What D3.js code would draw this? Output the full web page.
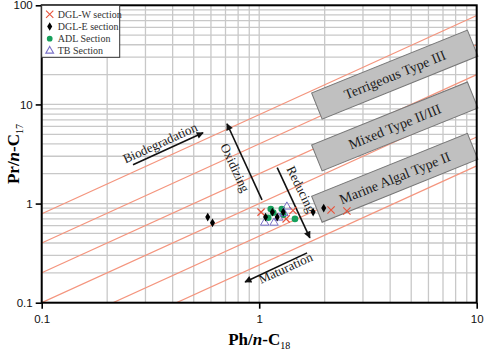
<!DOCTYPE html>
<html>
<head>
<meta charset="utf-8">
<script src="https://cdn.jsdelivr.net/npm/d3@7"></script>
<style>
  body { margin: 0; background: #fff; }
  svg text { font-family: "Liberation Serif", "Times New Roman", serif; }
  .tick text { font-family: "Liberation Sans", Arial, sans-serif; }
</style>
</head>
<body>
<div id="chart"></div>
<script>
// Pr/n-C17 vs Ph/n-C18 values
const dglW = [[1.02, 0.82], [1.33, 0.70], [1.43, 0.85], [2.14, 0.86], [2.53, 0.84]];
const dglE = [[0.58, 0.73], [0.61, 0.64], [1.15, 0.82], [1.07, 0.73], [1.21, 0.73], [1.29, 0.82], [1.77, 0.82], [1.98, 0.90]];
const adl = [[1.13, 0.88], [1.16, 0.81], [1.10, 0.72], [1.27, 0.88], [1.29, 0.77], [1.46, 0.70]];
const tb = [[1.06, 0.64], [1.17, 0.64], [1.34, 0.93], [1.23, 0.72], [1.30, 0.80]];

// iso-ratio lines  Pr/n-C17 = k * Ph/n-C18
const ratios = [0.24, 0.47, 1, 2, 4, 7.9];

const xTicks = [0.1, 1, 10];
const yTicks = [0.1, 1, 10, 100];

const legendNames = ["DGL-W section", "DGL-E section", "ADL Section", "TB Section"];

// kerogen type boxes (centre in data units)
const boxes = [
  { label: "Terrigeous Type III", x: 4.2, y: 20 },
  { label: "Mixed Type II/III", x: 4.2, y: 6.0 },
  { label: "Marine Algal Type II", x: 4.2, y: 1.82 }
];

// arrows: from -> to, text centre, text rotation
const arrows = [
  { label: "Biodegradation", from: [0.263, 2.46], to: [0.552, 5.18], text: [0.35, 4.1], rot: -24.5 },
  { label: "Oxidizing", from: [1.03, 1.09], to: [0.711, 6.38], text: [0.775, 2.3], rot: 65 },
  { label: "Reducing", from: [1.21, 2.3], to: [1.71, 0.451], text: [1.56, 1.4], rot: 64 },
  { label: "Maturation", from: [1.66, 0.318], to: [0.861, 0.162], text: [1.32, 0.224], rot: -24.5 }
];

const width = 484;
const height = 353;
const margin = { top: 5.3, right: 7.3, bottom: 50.3, left: 41.7 };
const w = width - margin.left - margin.right;
const h = height - margin.top - margin.bottom;

const x = d3.scaleLog().domain([0.1, 10]).range([0, w]);
const y = d3.scaleLog().domain([0.1, 100]).range([h, 0]);

const svg = d3.select("#chart").append("svg")
  .attr("width", width)
  .attr("height", height);

const defs = svg.append("defs");
defs.append("clipPath").attr("id", "clip")
  .append("rect").attr("width", w).attr("height", h);
defs.append("marker")
  .attr("id", "head")
  .attr("viewBox", "0 0 10 10")
  .attr("refX", 9).attr("refY", 5)
  .attr("markerWidth", 9).attr("markerHeight", 7)
  .attr("markerUnits", "userSpaceOnUse")
  .attr("orient", "auto")
  .append("path").attr("d", "M0,0L10,5L0,10z").attr("fill", "#111");

const g = svg.append("g").attr("transform", `translate(${margin.left},${margin.top})`);

// grid
g.append("g").selectAll("line").data(x.ticks()).enter().append("line")
  .attr("x1", d => x(d)).attr("x2", d => x(d))
  .attr("y1", 0).attr("y2", h)
  .attr("stroke", "#c8c8c8").attr("stroke-width", 1.3);
g.append("g").selectAll("line").data(y.ticks()).enter().append("line")
  .attr("y1", d => y(d)).attr("y2", d => y(d))
  .attr("x1", 0).attr("x2", w)
  .attr("stroke", "#c8c8c8").attr("stroke-width", 1.3);

// ratio lines
const line = d3.line().x(d => x(d[0])).y(d => y(d[1]));
g.append("g").attr("clip-path", "url(#clip)")
  .selectAll("path").data(ratios).enter().append("path")
  .attr("d", k => line([[0.01, 0.01 * k], [10, 10 * k]]))
  .attr("fill", "none")
  .attr("stroke", "#f4957e")
  .attr("stroke-width", 1.2);

// kerogen boxes
const bx = g.append("g").selectAll("g").data(boxes).enter().append("g")
  .attr("transform", d => `translate(${x(d.x)},${y(d.y)}) rotate(-22)`);
bx.append("rect")
  .attr("x", -84).attr("y", -14).attr("width", 168).attr("height", 28)
  .attr("fill", "#c0c0c0").attr("stroke", "#777").attr("stroke-width", 1);
bx.append("text")
  .attr("text-anchor", "middle").attr("dy", "0.35em")
  .attr("font-size", 14).attr("fill", "#1a1a1a")
  .text(d => d.label);

// arrows
const ar = g.append("g").selectAll("g").data(arrows).enter().append("g");
ar.append("line")
  .attr("x1", d => x(d.from[0])).attr("y1", d => y(d.from[1]))
  .attr("x2", d => x(d.to[0])).attr("y2", d => y(d.to[1]))
  .attr("stroke", "#111").attr("stroke-width", 1.6)
  .attr("marker-end", "url(#head)");
ar.append("text")
  .attr("transform", d => `translate(${x(d.text[0])},${y(d.text[1])}) rotate(${d.rot})`)
  .attr("text-anchor", "middle").attr("dy", "0.35em")
  .attr("font-size", 13).attr("fill", "#1a1a1a")
  .text(d => d.label);

// points
const pts = g.append("g");
const cross = d3.symbol().type(d3.symbolX).size(36);
pts.selectAll(".w").data(dglW).enter().append("path")
  .attr("transform", d => `translate(${x(d[0])},${y(d[1])})`)
  .attr("d", cross).attr("fill", "none").attr("stroke", "#e8543c").attr("stroke-width", 1.2);
pts.selectAll(".a").data(adl).enter().append("circle")
  .attr("cx", d => x(d[0])).attr("cy", d => y(d[1])).attr("r", 3.3)
  .attr("fill", "#16a05c");
pts.selectAll(".t").data(tb).enter().append("path")
  .attr("transform", d => `translate(${x(d[0])},${y(d[1])})`)
  .attr("d", d3.symbol().type(d3.symbolTriangle).size(30))
  .attr("fill", "none").attr("stroke", "#7a72c8").attr("stroke-width", 1);
pts.selectAll(".e").data(dglE).enter().append("path")
  .attr("transform", d => `translate(${x(d[0])},${y(d[1])})`)
  .attr("d", d3.symbol().type(d3.symbolDiamond).size(22))
  .attr("fill", "#000");

// axes
const xAxis = g.append("g").attr("transform", `translate(0,${h})`)
  .call(d3.axisBottom(x).tickValues(xTicks).tickFormat(d3.format("")).tickSize(6).tickSizeOuter(0).tickPadding(6));
const yAxis = g.append("g")
  .call(d3.axisLeft(y).tickValues(yTicks).tickFormat(d3.format("")).tickSize(6).tickSizeOuter(0).tickPadding(3));
[xAxis, yAxis].forEach(a => {
  a.select(".domain").remove();
  a.selectAll(".tick line").attr("stroke", "#000").attr("stroke-width", 1.6);
  a.selectAll(".tick text").attr("font-size", 11.5).attr("fill", "#111");
});

g.append("rect").attr("width", w).attr("height", h)
  .attr("fill", "none").attr("stroke", "#000").attr("stroke-width", 2);

// legend
const leg = g.append("g").attr("transform", "translate(0,0)");
leg.append("rect").attr("x", 0).attr("y", 0).attr("width", 78).attr("height", 52)
  .attr("fill", "#fff").attr("stroke", "#333").attr("stroke-width", 1);
const li = leg.selectAll(".li").data(legendNames).enter().append("g")
  .attr("transform", (d, i) => `translate(8,${9 + i * 12.2})`);
li.append("path")
  .attr("d", (d, i) => i === 0 ? cross() : i === 1 ? d3.symbol().type(d3.symbolDiamond).size(22)()
    : i === 2 ? d3.symbol().type(d3.symbolCircle).size(26)() : d3.symbol().type(d3.symbolTriangle).size(26)())
  .attr("fill", (d, i) => i === 1 ? "#000" : i === 2 ? "#16a05c" : "none")
  .attr("stroke", (d, i) => i === 0 ? "#e8543c" : i === 3 ? "#7a72c8" : "none")
  .attr("stroke-width", 1.1);
li.append("text").attr("x", 8).attr("dy", "0.35em")
  .attr("font-size", 10).attr("fill", "#333")
  .text(d => d);

// axis titles
const xt = svg.append("text")
  .attr("x", margin.left + w / 2).attr("y", 345)
  .attr("text-anchor", "middle").attr("font-weight", "bold").attr("font-size", 17);
xt.append("tspan").text("Ph/");
xt.append("tspan").attr("font-style", "italic").text("n");
xt.append("tspan").text("-C");
xt.append("tspan").attr("font-size", 10).attr("font-weight", "normal").attr("dy", 4).text("18");

const yt = svg.append("text")
  .attr("transform", `translate(19,${margin.top + h / 2}) rotate(-90)`)
  .attr("text-anchor", "middle").attr("font-weight", "bold").attr("font-size", 17);
yt.append("tspan").text("Pr/");
yt.append("tspan").attr("font-style", "italic").text("n");
yt.append("tspan").text("-C");
yt.append("tspan").attr("font-size", 10).attr("font-weight", "normal").attr("dy", 4).text("17");
</script>
</body>
</html>
